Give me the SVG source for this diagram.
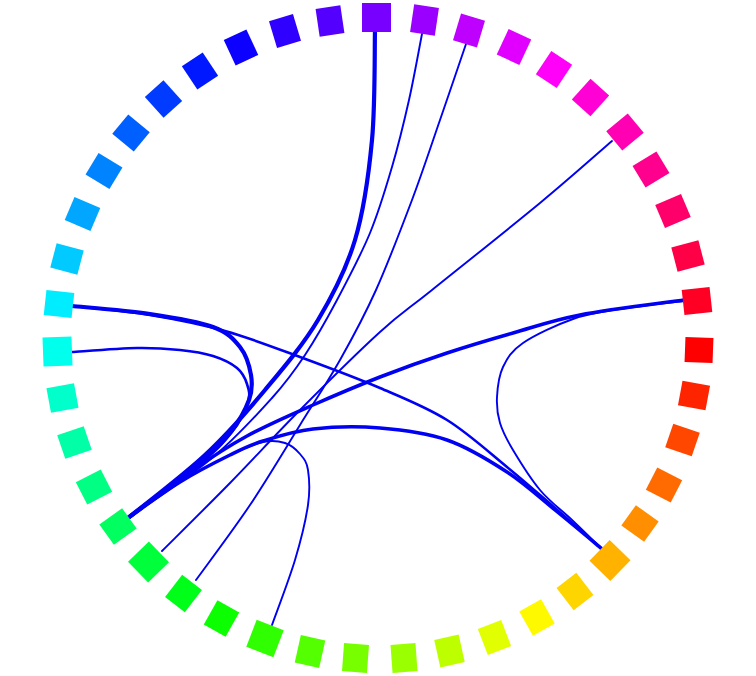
<svg xmlns="http://www.w3.org/2000/svg" xmlns:xlink="http://www.w3.org/1999/xlink" width="756" height="676" viewBox="0 0 756 676">
<defs>
<rect id="sq" x="-14" y="-12.5" width="28" height="25"/>
<rect id="lg" x="-14.5" y="-14.5" width="29" height="29"/>
</defs>
<style>
.e{fill:none;stroke:#0000f2;stroke-linecap:round;stroke-linejoin:round}
.t1{stroke-width:1.9}
.t2{stroke-width:2.6}
.t3{stroke-width:3.5}
.t4{stroke-width:4.2}
</style>
<rect width="756" height="676" fill="#ffffff"/>
<g id="edges">
<path class="e t4" d="M375,30 C374.5,48.3 375.3,105 372,140 C368.7,175 364,210 355,240 C346,270 333,295 318,320 C303,345 283.8,367.5 265,390 C246.2,412.5 227.8,433.7 205,455 C182.2,476.3 140.8,507.5 128,518"/>
<path class="e t1" d="M422,34 C419.8,45 414,77.8 409,100 C404,122.2 398.5,144.8 392,167 C385.5,189.2 379.2,210.8 370,233 C360.8,255.2 347.8,279.7 337,300 C326.2,320.3 315.8,338.7 305,355 C294.2,371.3 287.5,380.8 272,398 C256.5,415.2 236,438 212,458 C188,478 142,508 128,518"/>
<path class="e t1" d="M466,44 C461.7,56.7 449,94 440,120 C431,146 422.7,171.7 412,200 C401.3,228.3 388,263.3 376,290 C364,316.7 352.7,337.5 340,360 C327.3,382.5 315,400.8 300,425 C285,449.2 267.3,479.2 250,505 C232.7,530.8 205,567.5 196,580"/>
<path class="e t1" d="M612,141 C600,151.3 570,178.2 540,203 C510,227.8 458.7,268.5 432,290 C405.3,311.5 402,312 380,332 C358,352 325,384.8 300,410 C275,435.2 253,459.5 230,483 C207,506.5 173.3,539.7 162,551"/>
<path class="e t3" d="M684,300 C666.7,302.5 608.5,309.5 580,315 C551.5,320.5 535.2,326.7 513,333 C490.8,339.3 469.2,345.7 447,353 C424.8,360.3 402.3,368.3 380,377 C357.7,385.7 335.2,395.2 313,405 C290.8,414.8 267.5,424.8 247,436 C226.5,447.2 209.8,458.3 190,472 C170.2,485.7 138.3,510.3 128,518"/>
<path class="e t1" d="M684,301 C673.3,302.3 638.5,306 620,309 C601.5,312 589.2,313.3 573,319 C556.8,324.7 534.7,335 523,343 C511.3,351 507.3,358 503,367 C498.7,376 497.5,387.7 497,397 C496.5,406.3 497.3,414.2 500,423 C502.7,431.8 506.3,438.8 513,450 C519.7,461.2 530.2,478.3 540,490 C549.8,501.7 561.7,510.2 572,520 C582.3,529.8 597,544.2 602,549"/>
<path class="e t2" d="M72,306 C85,307.5 124.5,310.8 150,315 C175.5,319.2 200,324 225,331 C250,338 274.2,347.5 300,357 C325.8,366.5 355.5,377.5 380,388 C404.5,398.5 425.8,406.8 447,420 C468.2,433.2 489,452.3 507,467 C525,481.7 539.2,494.3 555,508 C570.8,521.7 594.2,542.2 602,549"/>
<path class="e t4" d="M72,306 C85,307.3 126.5,310.5 150,314 C173.5,317.5 198,321.5 213,327 C228,332.5 233.7,339 240,347 C246.3,355 249.5,366.2 251,375 C252.5,383.8 252.5,390.3 249,400 C245.5,409.7 238.2,422.5 230,433 C221.8,443.5 217,448.8 200,463 C183,477.2 140,508.8 128,518"/>
<path class="e t2" d="M72,352 C82.8,351.3 119,348.3 137,348 C155,347.7 167.3,348.7 180,350 C192.7,351.3 203.5,353 213,356 C222.5,359 231.3,363.3 237,368 C242.7,372.7 245.2,378.3 247,384 C248.8,389.7 250.5,394 248,402 C245.5,410 240,421.8 232,432 C224,442.2 217.3,448.7 200,463 C182.7,477.3 140,508.8 128,518"/>
<path class="e t3" d="M128,518 C136.7,512 163,492.5 180,482 C197,471.5 216.2,461.8 230,455 C243.8,448.2 249.2,445.3 263,441 C276.8,436.7 293.5,431.2 313,429 C332.5,426.8 357.7,426.2 380,428 C402.3,429.8 425.8,432.7 447,440 C468.2,447.3 489,460.3 507,472 C525,483.7 539.2,497.2 555,510 C570.8,522.8 594.2,542.5 602,549"/>
<path class="e t1" d="M272,625 C275.8,614.2 289,580 295,560 C301,540 305.8,520 308,505 C310.2,490 309.3,478.5 308,470 C306.7,461.5 303.8,458.5 300,454 C296.2,449.5 291.2,445 285,443 C278.8,441 272.2,440 263,442 C253.8,444 243.8,448.3 230,455 C216.2,461.7 197,471.5 180,482 C163,492.5 136.7,512 128,518"/>
</g>
<g id="n0" transform="translate(699,350) rotate(2.1)"><use xlink:href="#sq" fill="#ff0000"/></g>
<g id="n1" transform="translate(694,395.5) rotate(10.5)"><use xlink:href="#sq" fill="#ff2400"/></g>
<g id="n2" transform="translate(682.5,440) rotate(18.8)"><use xlink:href="#sq" fill="#ff4700"/></g>
<g id="n3" transform="translate(664,485) rotate(27.2)"><use xlink:href="#sq" fill="#ff6b00"/></g>
<g id="n4" transform="translate(640,523.5) rotate(35.6)"><use xlink:href="#sq" fill="#ff8e00"/></g>
<g id="n5" transform="translate(610,560.5) rotate(44)"><use xlink:href="#lg" fill="#ffb200"/></g>
<g id="n6" transform="translate(575,591.5) rotate(52.3)"><use xlink:href="#sq" fill="#ffd500"/></g>
<g id="n7" transform="translate(537,617.5) rotate(60.7)"><use xlink:href="#sq" fill="#fff900"/></g>
<g id="n8" transform="translate(494.5,637.5) rotate(69.1)"><use xlink:href="#sq" fill="#e1ff00"/></g>
<g id="n9" transform="translate(449.5,651) rotate(77.4)"><use xlink:href="#sq" fill="#beff00"/></g>
<g id="n10" transform="translate(404,658) rotate(85.8)"><use xlink:href="#sq" fill="#9aff00"/></g>
<g id="n11" transform="translate(355.5,658) rotate(94.2)"><use xlink:href="#sq" fill="#77ff00"/></g>
<g id="n12" transform="translate(310,651.5) rotate(102.6)"><use xlink:href="#sq" fill="#53ff00"/></g>
<g id="n13" transform="translate(265,638.5) rotate(110.9)"><use xlink:href="#lg" fill="#2fff00"/></g>
<g id="n14" transform="translate(221.5,618.5) rotate(119.3)"><use xlink:href="#sq" fill="#0cff00"/></g>
<g id="n15" transform="translate(183.5,593.5) rotate(127.7)"><use xlink:href="#sq" fill="#00ff18"/></g>
<g id="n16" transform="translate(148.5,562) rotate(136)"><use xlink:href="#lg" fill="#00ff3b"/></g>
<g id="n17" transform="translate(118,526.5) rotate(144.4)"><use xlink:href="#sq" fill="#00ff5f"/></g>
<g id="n18" transform="translate(94,487) rotate(152.8)"><use xlink:href="#sq" fill="#00ff83"/></g>
<g id="n19" transform="translate(74.5,442.5) rotate(161.2)"><use xlink:href="#sq" fill="#00ffa6"/></g>
<g id="n20" transform="translate(62.5,398) rotate(169.5)"><use xlink:href="#sq" fill="#00ffca"/></g>
<g id="n21" transform="translate(57.5,351.5) rotate(177.9)"><use xlink:href="#lg" fill="#00ffed"/></g>
<g id="n22" transform="translate(59,304) rotate(186.3)"><use xlink:href="#sq" fill="#00edff"/></g>
<g id="n23" transform="translate(67,259) rotate(194.7)"><use xlink:href="#sq" fill="#00caff"/></g>
<g id="n24" transform="translate(82.5,214) rotate(203)"><use xlink:href="#sq" fill="#00a6ff"/></g>
<g id="n25" transform="translate(104,171) rotate(211.4)"><use xlink:href="#sq" fill="#0083ff"/></g>
<g id="n26" transform="translate(131,133) rotate(219.8)"><use xlink:href="#sq" fill="#005fff"/></g>
<g id="n27" transform="translate(163.5,99) rotate(228.1)"><use xlink:href="#sq" fill="#003bff"/></g>
<g id="n28" transform="translate(200,71) rotate(236.5)"><use xlink:href="#sq" fill="#0018ff"/></g>
<g id="n29" transform="translate(241,47.5) rotate(244.9)"><use xlink:href="#sq" fill="#0c00ff"/></g>
<g id="n30" transform="translate(285,31) rotate(253.3)"><use xlink:href="#sq" fill="#2f00ff"/></g>
<g id="n31" transform="translate(330,21) rotate(261.6)"><use xlink:href="#sq" fill="#5300ff"/></g>
<g id="n32" transform="translate(376.5,17.5) rotate(270)"><use xlink:href="#lg" fill="#7700ff"/></g>
<g id="n33" transform="translate(424.5,20) rotate(278.4)"><use xlink:href="#sq" fill="#9a00ff"/></g>
<g id="n34" transform="translate(469,30.5) rotate(286.7)"><use xlink:href="#sq" fill="#be00ff"/></g>
<g id="n35" transform="translate(514,47) rotate(295.1)"><use xlink:href="#sq" fill="#e100ff"/></g>
<g id="n36" transform="translate(554,69.5) rotate(303.5)"><use xlink:href="#sq" fill="#ff00f9"/></g>
<g id="n37" transform="translate(590.5,97.5) rotate(311.9)"><use xlink:href="#sq" fill="#ff00d5"/></g>
<g id="n38" transform="translate(625,132) rotate(320.2)"><use xlink:href="#sq" fill="#ff00b2"/></g>
<g id="n39" transform="translate(651,169.5) rotate(328.6)"><use xlink:href="#sq" fill="#ff008e"/></g>
<g id="n40" transform="translate(673,211) rotate(337)"><use xlink:href="#sq" fill="#ff006b"/></g>
<g id="n41" transform="translate(688,256) rotate(345.4)"><use xlink:href="#sq" fill="#ff0047"/></g>
<g id="n42" transform="translate(697,301) rotate(353.7)"><use xlink:href="#sq" fill="#ff0024"/></g>
</svg>
